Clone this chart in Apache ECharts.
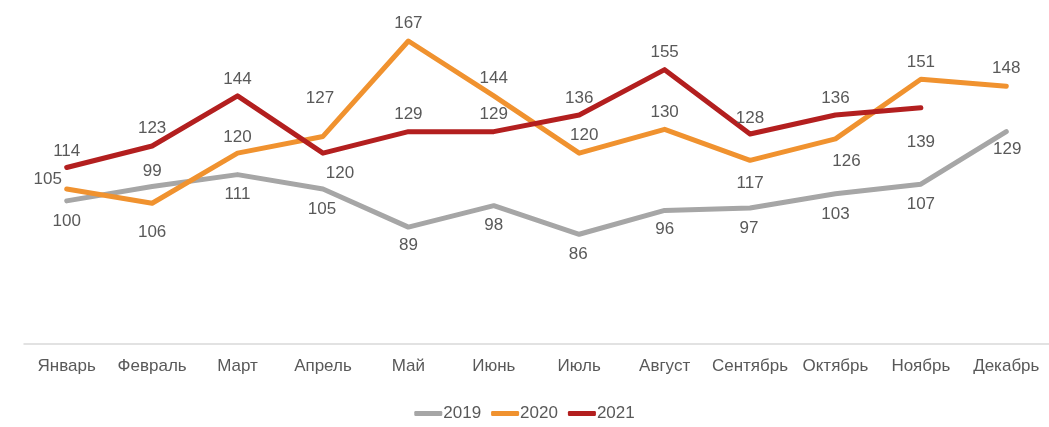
<!DOCTYPE html>
<html>
<head>
<meta charset="utf-8">
<script src="https://cdn.jsdelivr.net/npm/echarts@6/dist/echarts.min.js"></script>
<style>
  html, body { margin: 0; padding: 0; background: #ffffff; }
  #chart { width: 1049px; height: 427px; }
</style>
</head>
<body>
<div id="chart"></div>
<script>
// ---- data ----
var categories = ['Январь', 'Февраль', 'Март', 'Апрель', 'Май', 'Июнь', 'Июль', 'Август', 'Сентябрь', 'Октябрь', 'Ноябрь', 'Декабрь'];
var seriesNames = ['2019', '2020', '2021'];
var values2019 = [100, 106, 111, 105, 89, 98, 86, 96, 97, 103, 107, 129];
var values2020 = [105, 99, 120, 127, 167, 144, 120, 130, 117, 126, 151, 148];
var values2021 = [114, 123, 144, 120, 129, 129, 136, 155, 128, 136, 139, null];

// ---- label placement (styling, separate from data) ----
var offsets2019 = [[0,20],[0,46],[0,20],[-1,20],[0,18],[0,20],[-1,20],[0,19],[-1,20],[0,21],[0,20],[1,18]];
var offsets2020 = [[-19,-10],[0,-32],[0,-16],[-3,-38],[0,-18],[0,-18],[5,-18],[0,-17],[0,23],[11,22],[0,-17],[0,-18]];
var offsets2021 = [[0,-16],[0,-18],[0,-17],[17,20],[0,-17],[0,-17],[0,-17],[0,-17],[0,-16],[0,-17],[0,34],[0,0]];

var colors = ['#A6A6A6', '#F0922F', '#B31F1F'];
var FONT = '"Liberation Sans", Arial, sans-serif';

function buildData(values, offsets) {
  return values.map(function (v, i) {
    return {
      value: v,
      label: { offset: offsets[i] }
    };
  });
}

function makeSeries(name, values, offsets, color) {
  return {
    name: name,
    type: 'line',
    data: buildData(values, offsets),
    symbol: 'circle',
    symbolSize: 0.01,
    showSymbol: true,
    connectNulls: false,
    lineStyle: { color: color, width: 5, cap: 'round', join: 'round' },
    itemStyle: { color: color },
    label: {
      show: true,
      position: 'inside',
      color: '#595959',
      fontSize: 17,
      fontFamily: FONT
    },
    emphasis: { disabled: true },
    animation: false
  };
}

var chart = echarts.init(document.getElementById('chart'), null, { renderer: 'canvas' });
chart.setOption({
  backgroundColor: '#ffffff',
  animation: false,
  color: colors,
  grid: { left: 24, right: 0, top: 10, bottom: 83, containLabel: false },
  legend: {
    data: seriesNames,
    bottom: 0,
    left: 'center',
    itemWidth: 28,
    itemHeight: 5,
    itemGap: 10,
    icon: 'roundRect',
    textStyle: { color: '#595959', fontSize: 17, fontFamily: FONT, padding: [0, 0, 0, -4] }
  },
  xAxis: {
    type: 'category',
    data: categories,
    boundaryGap: true,
    axisLine: { show: true, lineStyle: { color: '#D9D9D9', width: 1.5 } },
    axisTick: { show: false },
    axisLabel: { color: '#595959', fontSize: 17, fontFamily: FONT, margin: 14, interval: 0 },
    splitLine: { show: false }
  },
  yAxis: {
    type: 'value',
    min: 40,
    max: 180,
    interval: 20,
    show: false,
    splitLine: { show: false }
  },
  series: [
    makeSeries(seriesNames[0], values2019, offsets2019, colors[0]),
    makeSeries(seriesNames[1], values2020, offsets2020, colors[1]),
    makeSeries(seriesNames[2], values2021, offsets2021, colors[2])
  ]
});
</script>
</body>
</html>
